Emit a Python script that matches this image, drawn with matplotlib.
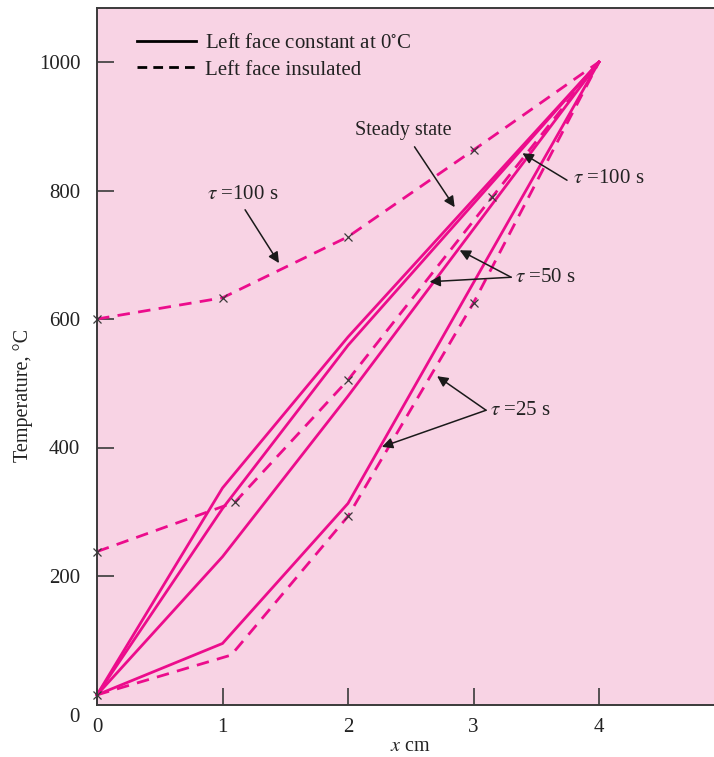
import matplotlib
matplotlib.use("Agg")
import matplotlib.pyplot as plt
from matplotlib.lines import Line2D

plt.rcParams['font.family'] = ['Liberation Serif', 'DejaVu Serif']
plt.rcParams['mathtext.fontset'] = 'stix'

# ---- data ----
x_steady = [0, 1, 2, 4]
T_steady = [15, 337, 572, 1000]
x_s100 = [0, 1, 2, 4]
T_s100 = [15, 305, 559, 1000]
x_s50 = [0, 1, 2, 4]
T_s50 = [15, 230, 480, 1000]
x_s25 = [0, 1, 2, 4]
T_s25 = [15, 95, 313, 1000]

x_d100 = [0, 1, 2, 3, 4]
T_d100 = [600, 633, 728, 863, 1000]
x_d50 = [0, 1.1, 2, 3.15, 4]
T_d50 = [238, 315, 505, 790, 1000]
x_d25 = [0, 1.07, 2, 3, 4]
T_d25 = [15, 77, 293, 625, 1000]

mark_x = [0, 1, 2, 3, 0, 1.1, 2, 3.15, 0, 2, 3]
mark_T = [600, 633, 728, 863, 238, 315, 505, 790, 15, 293, 625]

xticks = [0, 1, 2, 3, 4]
yticks = [200, 400, 600, 800, 1000]

MAG = '#EC0C8C'
BG = '#F8D3E4'
DARK = '#3a3a3a'

fig = plt.figure(figsize=(7.14, 7.57), dpi=100)
ax = fig.add_axes([97/714, 1-704.5/757, 1-97/714, (704.5-7.5)/757])
ax.set_facecolor(BG)
ax.set_xlim(0, 617/125.5)
ax.set_ylim(0, 697/0.6425)

lw = 2.0
dash = (0, (4.5, 3))
for xs, ts in [(x_steady, T_steady), (x_s100, T_s100), (x_s50, T_s50), (x_s25, T_s25)]:
    ax.plot(xs, ts, color=MAG, lw=lw, solid_joinstyle='miter', clip_on=False)
for xs, ts in [(x_d100, T_d100), (x_d50, T_d50), (x_d25, T_d25)]:
    ax.plot(xs, ts, color=MAG, lw=lw, linestyle=dash, clip_on=False)
ax.plot(mark_x, mark_T, linestyle='none', marker='x', color=DARK, ms=6, mew=0.9, clip_on=False, zorder=5)

ax.spines['right'].set_visible(False)
for s in ['left', 'bottom', 'top']:
    ax.spines[s].set_color(DARK)
    ax.spines[s].set_linewidth(1.4)

ax.set_xticks(xticks)
ax.set_xticklabels([str(v) for v in xticks])
ax.set_yticks(yticks)
ax.set_yticklabels([str(v) for v in yticks])
ax.tick_params(axis='both', direction='in', length=12, width=1.2, color=DARK,
               labelsize=15, labelcolor='#222222')
ax.tick_params(axis='x', pad=10)
ax.tick_params(axis='y', pad=12)
ax.text(-0.14, -20, '0', fontsize=15, color='#222222', ha='right', va='center', clip_on=False)

ax.set_ylabel('Temperature, °C', fontsize=14.5, color='#222222')
ax.yaxis.set_label_coords(-0.104, 0.443)
ax.set_xlabel('$\\mathit{x}$ cm', fontsize=14.5, color='#222222', labelpad=0)
ax.xaxis.set_label_coords(313/617, -0.046)

handles = [Line2D([], [], color='black', lw=2),
           Line2D([], [], color='black', lw=2, linestyle=(0, (3.5, 2.2)))]
leg = ax.legend(handles, ['Left face constant at 0$^{\\circ}$C', 'Left face insulated'],
                loc='upper left', bbox_to_anchor=(0.035, 0.99), frameon=False,
                fontsize=15, handlelength=2.8, handletextpad=0.45, labelspacing=0.35)
for t in leg.get_texts():
    t.set_color('#222222')

fs = 15
ap = dict(arrowstyle='-|>', color='#1a1a1a', lw=1.1, mutation_scale=16, shrinkA=0, shrinkB=0)
tc = '#222222'

ax.text(2.44, 894, 'Steady state', fontsize=14.5, ha='center', va='center', color=tc)
ax.annotate('', xy=(2.85, 774), xytext=(2.53, 868), arrowprops=ap)

ax.text(3.79, 819, '$\\tau$ =100 s', fontsize=fs, ha='left', va='center', color=tc)
ax.annotate('', xy=(3.39, 858), xytext=(3.745, 816), arrowprops=ap)

ax.text(3.33, 665, '$\\tau$ =50 s', fontsize=fs, ha='left', va='center', color=tc)
ax.annotate('', xy=(2.89, 707), xytext=(3.30, 665), arrowprops=ap)
ax.annotate('', xy=(2.65, 658), xytext=(3.30, 665), arrowprops=ap)

ax.text(3.13, 458, '$\\tau$ =25 s', fontsize=fs, ha='left', va='center', color=tc)
ax.annotate('', xy=(2.71, 511), xytext=(3.10, 458), arrowprops=ap)
ax.annotate('', xy=(2.27, 401), xytext=(3.10, 458), arrowprops=ap)

ax.text(1.16, 793, '$\\tau$ =100 s', fontsize=fs, ha='center', va='center', color=tc)
ax.annotate('', xy=(1.45, 687), xytext=(1.18, 770), arrowprops=ap)

fig.savefig('out.png', dpi=100)
